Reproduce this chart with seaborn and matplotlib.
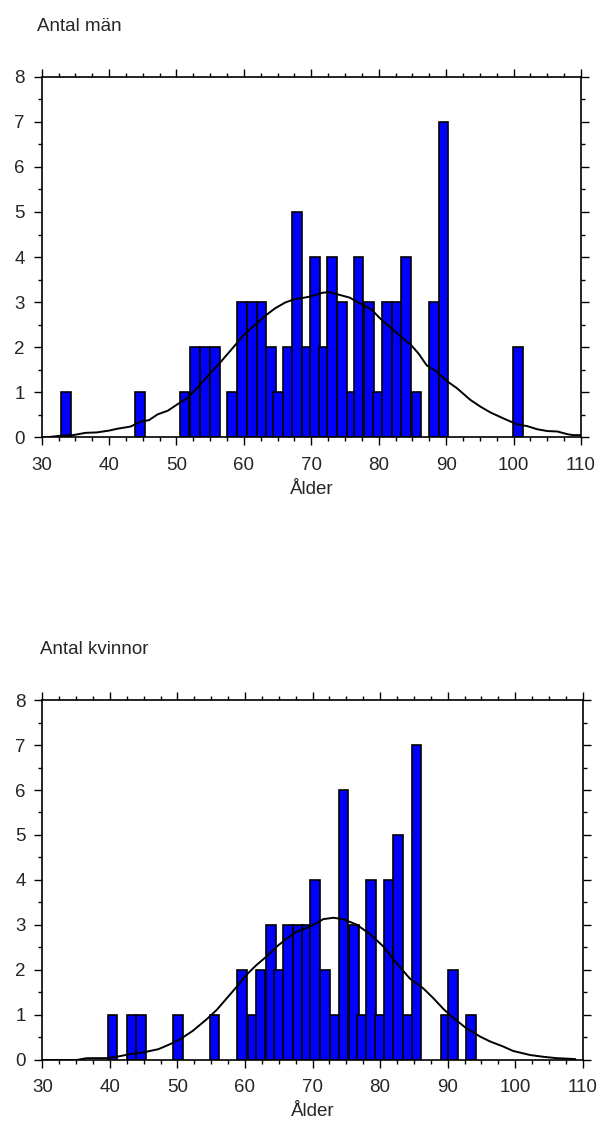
import numpy as np
import matplotlib
matplotlib.use("Agg")
import matplotlib.pyplot as plt
from matplotlib.ticker import MultipleLocator
import seaborn as sns

# bar centres (age) and counts
men_age = [33.6, 44.55, 51.2, 52.7, 54.2, 55.7, 58.2, 59.7, 61.2, 62.6, 64.0, 65.1,
           66.5, 67.9, 69.3, 70.6, 71.9, 73.1, 74.6, 76.0, 77.0, 78.5, 79.9, 81.25,
           82.7, 84.0, 85.6, 88.2, 89.6, 100.65]
men_count = [1, 1, 1, 2, 2, 2, 1, 3, 3, 3, 2, 1,
             2, 5, 2, 4, 2, 4, 3, 1, 4, 3, 1, 3,
             3, 4, 1, 3, 7, 2]

women_age = [40.4, 43.25, 44.6, 50.1, 55.5, 59.6, 61.1, 62.3, 63.8, 65.0, 66.4, 67.8,
             69.1, 70.4, 71.9, 73.3, 74.6, 76.15, 77.3, 78.6, 80.0, 81.3, 82.6, 84.15,
             85.4, 89.7, 90.8, 93.5]
women_count = [1, 1, 1, 1, 1, 2, 1, 2, 3, 2, 3, 3,
               3, 4, 2, 1, 6, 3, 1, 4, 1, 4, 5, 1,
               7, 1, 2, 1]

# smoothed curves
men_curve_x = [30, 31.2, 33, 34.7, 36.5, 38.2, 40, 41.2, 43.2, 44.7, 45.9, 47.2, 48.7,
               50.1, 51.6, 53.1, 55.1, 56.6, 58.1, 60.1, 61.6, 63.1, 64.6, 66.1, 67.6,
               69, 70, 71.7, 72.7, 74.2, 75.7, 77.2, 78.9, 80.2, 81.7, 83.2, 84.9, 85.9,
               87.1, 88.6, 90.1, 91.6, 93.6, 95.1, 96.6, 98.5, 100.5, 102, 103.5, 105,
               106.5, 108, 108.8, 110]
men_curve_y = [0, 0.01, 0.04, 0.05, 0.1, 0.11, 0.15, 0.19, 0.24, 0.35, 0.38, 0.51, 0.59,
               0.73, 0.87, 1.10, 1.44, 1.68, 1.94, 2.29, 2.49, 2.69, 2.86, 2.99, 3.07,
               3.10, 3.13, 3.21, 3.22, 3.16, 3.10, 2.97, 2.84, 2.64, 2.44, 2.25, 2.03, 1.86,
               1.60, 1.46, 1.25, 1.09, 0.83, 0.68, 0.55, 0.42, 0.29, 0.25, 0.18, 0.14,
               0.13, 0.07, 0.05, 0.05]

women_curve_x = [30, 35.1, 36.6, 39.5, 41, 43, 45, 47.2, 48.9, 50.4, 52.3, 54.3, 55.8,
                 57.3, 58.8, 60.2, 61.7, 63.2, 64.7, 66.2, 67.6, 68.6, 70.1, 71.6, 73.1,
                 74.5, 76.5, 78.5, 80.5, 82.4, 84.4, 86.4, 87.9, 89.4, 90.8, 92.8, 94.8,
                 96.3, 98.2, 99.7, 102.2, 104.2, 106.1, 108.9]
women_curve_y = [0, 0, 0.04, 0.04, 0.07, 0.13, 0.17, 0.24, 0.35, 0.46, 0.65, 0.9, 1.11,
                 1.37, 1.63, 1.89, 2.11, 2.3, 2.52, 2.7, 2.85, 2.9, 3.0, 3.13, 3.16,
                 3.13, 3.01, 2.8, 2.52, 2.16, 1.81, 1.59, 1.37, 1.13, 0.94, 0.70, 0.52,
                 0.41, 0.3, 0.2, 0.11, 0.07, 0.04, 0.02]

BAR_W = 1.45

sns.set_style("ticks")
plt.rcParams['font.family'] = ['Liberation Sans', 'DejaVu Sans']
plt.rcParams['font.size'] = 13.5

fig = plt.figure(figsize=(6.01, 11.22), dpi=100)
ax1 = fig.add_axes([0.0693, 0.6102, 0.8974, 0.3214])
ax2 = fig.add_axes([0.0704, 0.0553, 0.8992, 0.3208])


def draw(ax, ages, counts, cx, cy):
    native = np.diff(np.unique(ages)).min()
    sns.barplot(x=ages, y=counts, native_scale=True, orient="x",
                width=BAR_W / native, color="#0000ff", saturation=1,
                edgecolor="black", linewidth=1.2, errorbar=None, ax=ax)
    sns.lineplot(x=cx, y=cy, color="black", linewidth=1.4, ax=ax)
    ax.set_xlim(30, 110)
    ax.set_ylim(0, 8)
    ax.xaxis.set_major_locator(MultipleLocator(10))
    ax.xaxis.set_minor_locator(MultipleLocator(2.5))
    ax.yaxis.set_major_locator(MultipleLocator(1))
    ax.yaxis.set_minor_locator(MultipleLocator(0.5))
    for s in ax.spines.values():
        s.set_visible(True)
        s.set_linewidth(1.2)
        s.set_color("black")
    ax.tick_params(which="both", direction="out", top=True, right=True,
                   color="black", width=1.0, labelsize=13.5)
    ax.tick_params(which="major", length=6)
    ax.tick_params(which="minor", length=3)
    ax.tick_params(axis="x", pad=8)
    ax.tick_params(axis="y", pad=6)
    ax.set_ylabel("")
    ax.set_xlabel("Ålder", fontsize=13.5, labelpad=5)


draw(ax1, men_age, men_count, men_curve_x, men_curve_y)
draw(ax2, women_age, women_count, women_curve_x, women_curve_y)

fig.text(37 / 601, 1 - 30.7 / 1122, "Antal män", fontsize=13.5, va="baseline", ha="left")
fig.text(40 / 601, 1 - 654 / 1122, "Antal kvinnor", fontsize=13.5, va="baseline", ha="left")

fig.savefig("out.png", dpi=100)
